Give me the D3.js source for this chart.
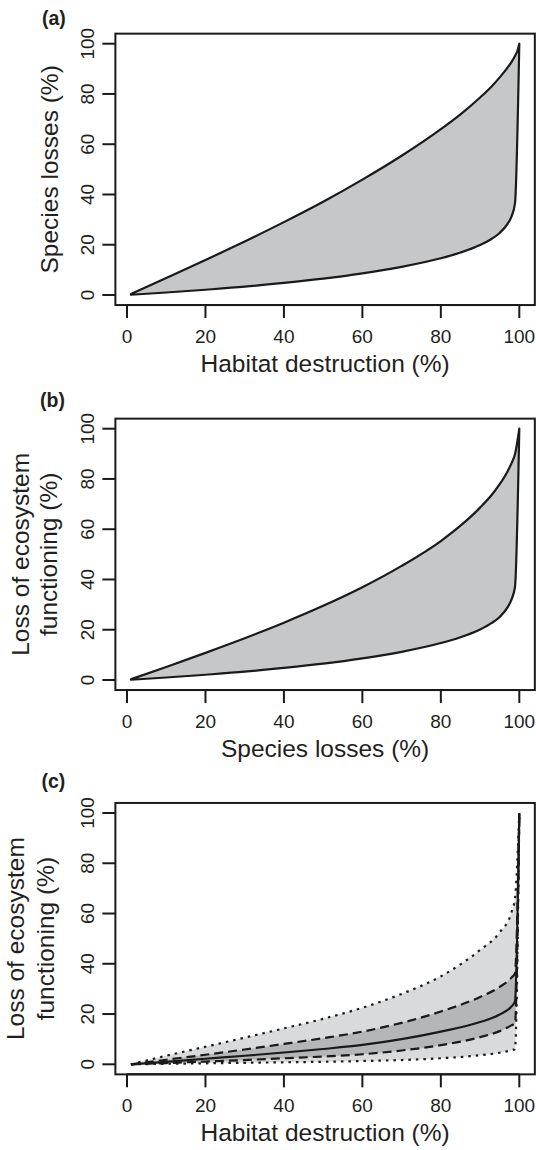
<!DOCTYPE html>
<html>
<head>
<meta charset="utf-8">
<script src="https://cdn.jsdelivr.net/npm/d3@7"></script>
<style>
  body { margin: 0; background: #fff; }
  svg text { font-family: "Liberation Sans", Arial, Helvetica, sans-serif; fill: #231f20; }
</style>
</head>
<body>
<div id="chart"></div>
<script>
// ---- data ----
var xTicks = [0, 20, 40, 60, 80, 100];
var yTicks = [0, 20, 40, 60, 80, 100];

// (a) habitat destruction -> species losses
var aUpperX = [1, 10, 20, 30, 40, 50, 60, 70, 80, 85, 90, 93, 95, 97, 98, 99, 99.5, 100];
var aUpperY = [0.4, 6.8, 13.9, 21.3, 29, 37.1, 45.9, 55.4, 66, 71.9, 78.6, 83.1, 86.6, 90.5, 92.7, 95.4, 97.1, 100];
var aLowerX = [1, 10, 20, 30, 40, 50, 60, 70, 80, 85, 90, 93, 95, 97, 98, 98.9, 100];
var aLowerY = [0.1, 1.0, 2.1, 3.3, 4.8, 6.5, 8.6, 11.2, 14.6, 16.9, 19.9, 22.4, 24.7, 28.3, 31.2, 36.5, 100];

// (b) species losses -> loss of ecosystem functioning
var bUpperX = [1, 10, 20, 30, 40, 50, 60, 70, 80, 85, 90, 93, 95, 97, 98, 98.9, 100];
var bUpperY = [0.3, 5.2, 10.8, 16.6, 22.8, 29.5, 36.9, 45.4, 55.3, 61.4, 68.6, 73.7, 77.9, 83, 86.2, 89.8, 100];
var bLowerX = [1, 10, 20, 30, 40, 50, 60, 70, 80, 85, 90, 93, 95, 97, 98, 98.9, 100];
var bLowerY = [0.1, 1.0, 2.1, 3.3, 4.8, 6.5, 8.6, 11.2, 14.7, 17, 20.1, 22.7, 25.1, 28.9, 32, 37, 100];

// (c) habitat destruction -> loss of ecosystem functioning
var cX         = [1, 10, 20, 30, 40, 50, 60, 70, 80, 90, 95, 98, 98.9, 100];
var cOuterHigh = [0, 3.4, 7.0, 10.6, 14.3, 18.1, 22.5, 28, 35, 45.5, 52.5, 60.5, 66, 100];
var cInnerHigh = [0, 1.8, 3.8, 5.9, 8.1, 10.4, 13, 16.5, 21, 26.8, 30.8, 34.5, 36.3, 100];
var cMean      = [0, 1.0, 2.2, 3.4, 4.7, 6.1, 7.7, 10, 13, 16.8, 19.8, 23, 25, 100];
var cInnerLow  = [0, 0.5, 1.1, 1.7, 2.4, 3.1, 4.0, 5.5, 7.6, 10.8, 13.2, 15.5, 16.3, 100];
var cOuterLow  = [0, 0.2, 0.4, 0.6, 0.8, 1.0, 1.3, 1.7, 2.4, 3.6, 4.6, 5.6, 6, 100];

var width = 536, height = 1150;
var ink = "#1a1a1a";

var svg = d3.select("#chart").append("svg")
    .attr("width", width)
    .attr("height", height);

var x = d3.scaleLinear().domain([0, 100]).range([127, 519.3]);

function zip(xs, ys){
    return xs.map(function(v, i){ return [v, ys[i]]; });
}

function drawFrame(p){
    var y = d3.scaleLinear().domain([0, 100]).range([295 + p.off, 43.7 + p.off]);
    var g = svg.append("g");
    var left = x(-2.96), right = x(103.96), top = y(104), bottom = y(-4);

    // x axis
    g.selectAll(".xt").data(xTicks).enter().append("line")
        .attr("x1", function(d){ return x(d); }).attr("x2", function(d){ return x(d); })
        .attr("y1", bottom).attr("y2", bottom + 13)
        .attr("stroke", ink).attr("stroke-width", 2);
    g.selectAll(".xl").data(xTicks).enter().append("text")
        .attr("x", function(d){ return x(d); })
        .attr("y", y(0) + 47.7)
        .attr("text-anchor", "middle")
        .style("font-size", "19px")
        .text(function(d){ return d; });
    g.append("line")
        .attr("x1", x(0)).attr("x2", x(100)).attr("y1", bottom).attr("y2", bottom)
        .attr("stroke", ink).attr("stroke-width", 2);

    // y axis
    g.selectAll(".yt").data(yTicks).enter().append("line")
        .attr("x1", left - 13).attr("x2", left)
        .attr("y1", function(d){ return y(d); }).attr("y2", function(d){ return y(d); })
        .attr("stroke", ink).attr("stroke-width", 2);
    g.selectAll(".yl").data(yTicks).enter().append("text")
        .attr("transform", function(d){ return "translate(94," + y(d) + ") rotate(-90)"; })
        .attr("text-anchor", "middle")
        .style("font-size", "19px")
        .text(function(d){ return d; });

    // titles
    g.append("text")
        .attr("x", (left + right) / 2)
        .attr("y", y(0) + 77)
        .attr("text-anchor", "middle")
        .style("font-size", "24.5px")
        .text(p.xTitle);
    p.yTitle.forEach(function(t, i){
        g.append("text")
            .attr("transform", "translate(" + p.yTitleX[i] + "," + ((top + bottom) / 2) + ") rotate(-90)")
            .attr("text-anchor", "middle")
            .style("font-size", "24.5px")
            .text(t);
    });
    g.append("text")
        .attr("x", p.labelX).attr("y", p.labelY)
        .style("font-size", "19.5px")
        .style("font-weight", "bold")
        .text(p.label);

    return {g: g, y: y, box: [left, top, right, bottom]};
}

function drawBox(f){
    var b = f.box;
    f.g.append("rect")
        .attr("x", b[0]).attr("y", b[1])
        .attr("width", b[2] - b[0]).attr("height", b[3] - b[1])
        .attr("fill", "none").attr("stroke", ink).attr("stroke-width", 2);
}

function band(f, upper, lower){
    var line = d3.line()
        .x(function(d){ return x(d[0]); })
        .y(function(d){ return f.y(d[1]); })
        .curve(d3.curveMonotoneX);
    var up = line(upper);
    var lo = line(lower.slice().reverse());
    var path = up + "L" + lo.slice(1) + "Z";
    f.g.append("path")
        .attr("d", path)
        .attr("fill", "#c6c7c9")
        .attr("stroke", ink)
        .attr("stroke-width", 2.2)
        .attr("stroke-linejoin", "round");
}

// panel (a)
var fa = drawFrame({off: 0, xTitle: "Habitat destruction (%)", yTitle: ["Species losses (%)"],
    yTitleX: [57.5], label: "(a)", labelX: 42, labelY: 25});
band(fa, zip(aUpperX, aUpperY), zip(aLowerX, aLowerY));
drawBox(fa);

// panel (b)
var fb = drawFrame({off: 385, xTitle: "Species losses (%)", yTitle: ["Loss of ecosystem", "functioning (%)"],
    yTitleX: [28.5, 57], label: "(b)", labelX: 40, labelY: 406.5});
band(fb, zip(bUpperX, bUpperY), zip(bLowerX, bLowerY));
drawBox(fb);

// panel (c)
var fc = drawFrame({off: 769.3, xTitle: "Habitat destruction (%)", yTitle: ["Loss of ecosystem", "functioning (%)"],
    yTitleX: [23.5, 53.5], label: "(c)", labelX: 41.5, labelY: 787.5});

function areaOf(lo, hi){
    return d3.area()
        .x(function(d, i){ return x(cX[i]); })
        .y0(function(d, i){ return fc.y(lo[i]); })
        .y1(function(d, i){ return fc.y(hi[i]); })
        .curve(d3.curveMonotoneX)(cX);
}
function lineOf(ys){
    return d3.line()
        .x(function(d, i){ return x(cX[i]); })
        .y(function(d, i){ return fc.y(ys[i]); })
        .curve(d3.curveMonotoneX)(cX);
}
fc.g.append("path").attr("d", areaOf(cOuterLow, cOuterHigh)).attr("fill", "#d9dadb");
fc.g.append("path").attr("d", areaOf(cInnerLow, cInnerHigh)).attr("fill", "#b5b6b8");
[cOuterHigh, cOuterLow].forEach(function(s){
    fc.g.append("path").attr("d", lineOf(s)).attr("fill", "none")
        .attr("stroke", ink).attr("stroke-width", 2.2).attr("stroke-dasharray", "2.5,5");
});
[cInnerHigh, cInnerLow].forEach(function(s){
    fc.g.append("path").attr("d", lineOf(s)).attr("fill", "none")
        .attr("stroke", ink).attr("stroke-width", 2.2).attr("stroke-dasharray", "9,5");
});
fc.g.append("path").attr("d", lineOf(cMean)).attr("fill", "none")
    .attr("stroke", ink).attr("stroke-width", 2.2);
drawBox(fc);
</script>
</body>
</html>
